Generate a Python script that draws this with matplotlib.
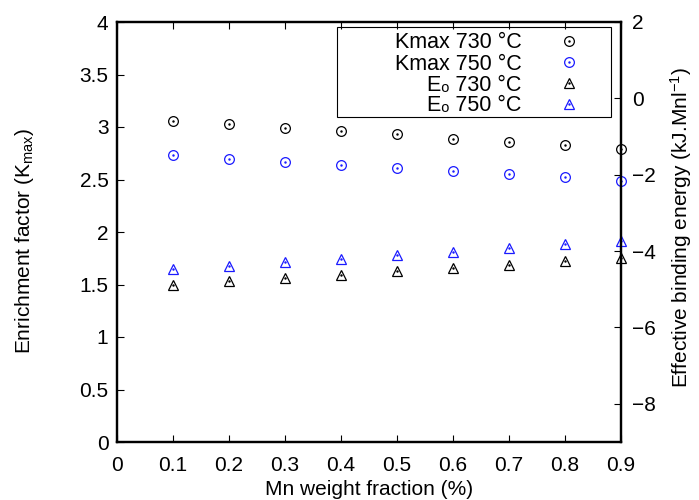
import numpy as np
import matplotlib
matplotlib.use("Agg")
import matplotlib.pyplot as plt
from matplotlib.patches import Rectangle
from matplotlib.ticker import FuncFormatter

plt.rcParams['font.family'] = ['Liberation Sans', 'DejaVu Sans']
plt.rcParams['mathtext.fontset'] = 'custom'
plt.rcParams['mathtext.rm'] = 'Liberation Sans'
plt.rcParams['mathtext.it'] = 'Liberation Sans'
plt.rcParams['font.size'] = 15

# Mn weight fraction (%)
mn = [0.1, 0.2, 0.3, 0.4, 0.5, 0.6, 0.7, 0.8, 0.9]

# enrichment factor Kmax
kmax_730 = [3.06, 3.03, 2.99, 2.96, 2.93, 2.89, 2.86, 2.83, 2.79]
kmax_750 = [2.73, 2.70, 2.67, 2.64, 2.61, 2.58, 2.55, 2.52, 2.49]

# effective binding energy (right axis)
eo_730 = [-4.88, -4.79, -4.71, -4.63, -4.53, -4.45, -4.36, -4.26, -4.17]
eo_750 = [-4.46, -4.38, -4.28, -4.20, -4.10, -4.02, -3.92, -3.82, -3.74]

labels = ['Kmax 730 °C', 'Kmax 750 °C', 'E\u2092 730 °C', 'E\u2092 750 °C']

fig = plt.figure(figsize=(6.99, 5.0), dpi=100)
ax = fig.add_axes([0.167, 0.116, 0.721, 0.840])
ax2 = ax.twinx()

def pts(axis, y, marker, color):
    l, = axis.plot(mn, y, linestyle='none', marker=marker, markersize=7,
                   markerfacecolor='none', markeredgecolor=color,
                   markeredgewidth=0.9, clip_on=False)
    d, = axis.plot(mn, y, linestyle='none', marker='.', markersize=1.5,
                   color=color, clip_on=False)
    return (l, d)

h1 = pts(ax, kmax_730, 'o', 'black')
h2 = pts(ax, kmax_750, 'o', '#1a1aff')
h3 = pts(ax2, eo_730, '^', 'black')
h4 = pts(ax2, eo_750, '^', '#1a1aff')

ax.set_xlim(0, 0.9)
ax.set_ylim(0, 4)
ax2.set_ylim(-9, 2)
ax.set_xticks(np.arange(0, 0.91, 0.1))
ax.set_yticks(np.arange(0, 4.01, 0.5))
ax2.set_yticks([-8, -6, -4, -2, 0, 2])
fmt = FuncFormatter(lambda v, p: '%g' % round(v, 2))
ax.xaxis.set_major_formatter(fmt)
ax.yaxis.set_major_formatter(fmt)

ax.tick_params(axis='x', direction='in', top=True, length=5, width=0.8, pad=10)
ax.tick_params(axis='y', direction='in', right=False, length=5, width=0.8, pad=6)
ax2.tick_params(axis='y', direction='in', length=5, width=0.8, pad=8)
for a in (ax, ax2):
    for s in a.spines.values():
        s.set_linewidth(1.6)

ax.set_xlabel('Mn weight fraction (%)', labelpad=4)
ax.set_ylabel('Enrichment factor (K$_{\\mathrm{max}}$)')
ax2.set_ylabel('Effective binding energy (kJ.Mnl$^{-1}$)')
ax.yaxis.set_label_coords(-0.16, 0.48)
ax2.yaxis.set_label_coords(1.095, 0.51)

ax2.add_patch(Rectangle((0.438, 0.774), 0.542, 0.214, transform=ax2.transAxes,
                        fill=False, edgecolor='black', linewidth=0.8, clip_on=False))
leg = ax2.legend([h1, h2, h3, h4], labels, loc='upper right',
                 bbox_to_anchor=(0.94, 0.975), frameon=False, markerfirst=False,
                 handlelength=2.0, handletextpad=1.2, labelspacing=0.0,
                 borderpad=0, borderaxespad=0, fontsize=15.5)

fig.savefig('out.png', dpi=100)
